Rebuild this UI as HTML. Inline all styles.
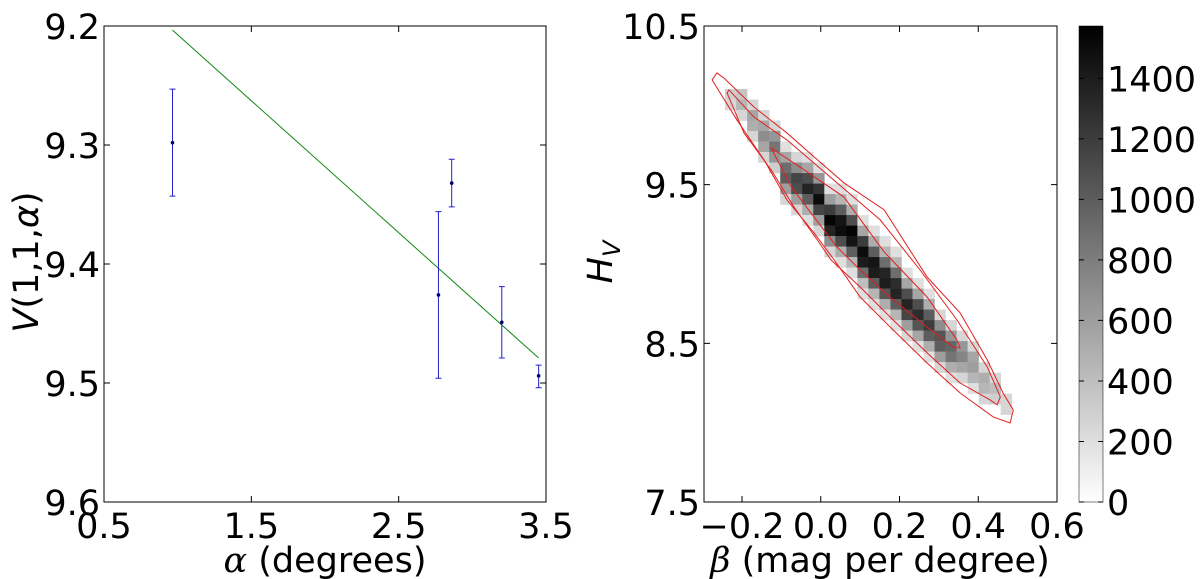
<!DOCTYPE html>
<html><head><meta charset="utf-8">
<style>
html,body{margin:0;padding:0;background:#fff;}
svg{display:block;}
text{font-family:"DejaVu Sans","Liberation Sans",sans-serif;fill:#000;}
</style></head>
<body>
<svg id="fig" width="1200" height="579" viewBox="0 0 1200 579">
  <g id="left"></g>
  <g id="right"></g>
</svg>
<script>
// ---- Left chart data ----
const alphaVals = [0.965, 2.77, 2.86, 3.20, 3.45];
const vVals = [9.298, 9.426, 9.332, 9.449, 9.494];
const vErrLow = [9.253, 9.356, 9.312, 9.419, 9.485];
const vErrHigh = [9.343, 9.496, 9.352, 9.479, 9.504];
const fitAlpha = [0.965, 3.45];
const fitV = [9.2035, 9.479];
const leftXTicks = [0.5, 1.5, 2.5, 3.5];
const leftXTickLabels = ["0.5", "1.5", "2.5", "3.5"];
const leftYTicks = [9.2, 9.3, 9.4, 9.5, 9.6];
const leftYTickLabels = ["9.2", "9.3", "9.4", "9.5", "9.6"];

// ---- Right chart data ----
const betaStart = -0.243;
const betaBinWidth = 0.028;
const hTop = 10.5;
const hBinHeight = 0.0662;
const colTopRows = [6,6,7,8,9,11,12,12,13,15,15,16,18,19,20,21,23,24,25,27,28,29,30,32,33,35];
const colCounts = [
 [300,250],
 [350,450,250],
 [250,550,500,250],
 [250,550,700,550,250],
 [250,650,850,650,300],
 [200,550,900,1000,600,250],
 [250,700,1150,1100,600,250],
 [200,550,1100,1350,1000,500,200],
 [200,650,1250,1500,1150,600,250],
 [200,600,1200,1550,1350,700,250],
 [200,450,1000,1450,1500,1100,500,200],
 [200,500,1100,1550,1450,1000,450,200],
 [200,550,1200,1500,1400,900,400,200],
 [200,500,1000,1450,1400,1000,450,200],
 [200,450,900,1350,1400,1050,500,200],
 [200,450,900,1300,1350,1000,450,200],
 [200,550,1100,1350,1150,600,250],
 [200,550,1100,1300,1050,550,200],
 [200,500,1000,1200,1000,500,200],
 [250,700,1050,1000,600,250],
 [250,650,950,850,500,200],
 [250,650,750,550,250],
 [250,550,600,450,200],
 [250,500,450,250],
 [250,400,300],
 [250,250]
];
const contourOuterBeta = [-0.276,-0.264,-0.246,-0.170,-0.086,-0.017,0.059,0.161,0.270,0.354,0.423,0.463,0.489,0.481,0.438,0.354,0.270,0.184,0.100,0.034,-0.017,-0.086,-0.144,-0.213];
const contourOuterH = [10.160,10.204,10.172,9.990,9.826,9.675,9.511,9.341,8.918,8.692,8.395,8.187,8.080,7.998,8.036,8.187,8.376,8.584,8.792,9.026,9.196,9.404,9.656,9.908];
const contourMidBeta = [-0.238,-0.233,-0.170,-0.086,0.151,0.252,0.346,0.423,0.456,0.448,0.430,0.354,0.270,0.184,0.100,0.026,-0.009,-0.068,-0.126,-0.195];
const contourMidH = [10.078,10.097,9.927,9.782,9.278,8.963,8.647,8.351,8.162,8.112,8.143,8.250,8.440,8.647,8.855,9.026,9.152,9.359,9.593,9.826];
const contourInBeta = [-0.126,-0.042,0.059,0.161,0.270,0.346,0.354,0.336,0.270,0.184,0.100,0.041,-0.017,-0.075];
const contourInH = [9.731,9.593,9.422,9.076,8.792,8.521,8.471,8.477,8.603,8.773,8.963,9.107,9.296,9.486];
const rightXTicks = [-0.2, 0.0, 0.2, 0.4, 0.6];
const rightXTickLabels = ["\u22120.2", "0.0", "0.2", "0.4", "0.6"];
const rightYTicks = [10.5, 9.5, 8.5, 7.5];
const rightYTickLabels = ["10.5", "9.5", "8.5", "7.5"];
const cbarTicks = [0,200,400,600,800,1000,1200,1400];
const cbarMax = 1573;

const NS = "http://www.w3.org/2000/svg";
function mk(parent, tag, attrs, txt){
  const e = document.createElementNS(NS, tag);
  for (const k in attrs) e.setAttribute(k, attrs[k]);
  if (txt !== undefined) e.textContent = txt;
  parent.appendChild(e);
  return e;
}
const FS = 35;

// ===== Left panel =====
const L = document.getElementById('left');
const lx0 = 104, lx1 = 546, ly0 = 26, ly1 = 502;
const lxs = v => lx0 + (v - 0.5) / 3.0 * (lx1 - lx0);
const lys = v => ly0 + (v - 9.2) / 0.4 * (ly1 - ly0);

let fr = mk(L, 'rect', {x:lx0, y:ly0, width:lx1-lx0, height:ly1-ly0, fill:'none', stroke:'#000', 'stroke-width':1});



leftXTicks.forEach((t, i) => {
  const x = lxs(t);
  const tk = mk(L, 'path', {d:`M${x},${ly1}v-6M${x},${ly0}v6`, stroke:'#000', 'stroke-width':1});
  
  
  const lb = mk(L, 'text', {x:x, y:538, 'font-size':FS, 'text-anchor':'middle'}, leftXTickLabels[i]);
  
  
});
leftYTicks.forEach((t, i) => {
  const y = lys(t);
  const tk = mk(L, 'path', {d:`M${lx0},${y}h6M${lx1},${y}h-6`, stroke:'#000', 'stroke-width':1});
  
  
  const lb = mk(L, 'text', {x:lx0-4, y:y+13, 'font-size':FS, 'text-anchor':'end'}, leftYTickLabels[i]);
  
  
});

const fit = mk(L, 'line', {x1:lxs(fitAlpha[0]), y1:lys(fitV[0]), x2:lxs(fitAlpha[1]), y2:lys(fitV[1]), stroke:'#118811', 'stroke-width':1});



alphaVals.forEach((a, i) => {
  const x = lxs(a);
  const g = mk(L, 'g', {});
  
  
  mk(g, 'path', {d:`M${x},${lys(vErrLow[i])}V${lys(vErrHigh[i])}M${x-3},${lys(vErrLow[i])}h6M${x-3},${lys(vErrHigh[i])}h6`, stroke:'#2222cc', 'stroke-width':1, fill:'none'});
  mk(g, 'circle', {cx:x, cy:lys(vVals[i]), r:1.8, fill:'#000066'});
});

let t1 = mk(L, 'text', {x:325, y:572, 'font-size':FS, 'text-anchor':'middle'});


mk(t1, 'tspan', {'font-family':'"DejaVu Serif","Liberation Serif",serif', 'font-style':'italic'}, 'α');
mk(t1, 'tspan', {}, ' (degrees)');

let t2 = mk(L, 'text', {x:0, y:0, 'font-size':FS, 'text-anchor':'middle', transform:'translate(38,262) rotate(-90)', 'font-family':'"DejaVu Serif","Liberation Serif",serif'});


mk(t2, 'tspan', {'font-style':'italic'}, 'V');
mk(t2, 'tspan', {}, '(1,1,');
mk(t2, 'tspan', {'font-style':'italic'}, 'α');
mk(t2, 'tspan', {}, ')');

// ===== Right panel =====
const R = document.getElementById('right');
const rx0 = 704, rx1 = 1057, ry0 = 26, ry1 = 502;
const bMin = -0.2 - (742 - rx0) / 393.5;
const rxs = v => rx0 + (v - bMin) / (0.6 - bMin) * (rx1 - rx0);
const rys = v => ry0 + (10.5 - v) / 3.0 * (ry1 - ry0);
const gray = c => { const g = Math.round(255 * (1 - Math.min(c, cbarMax) / cbarMax)); return `rgb(${g},${g},${g})`; };

colCounts.forEach((col, k) => {
  const b0 = betaStart + k * betaBinWidth;
  col.forEach((c, j) => {
    const hT = hTop - (colTopRows[k] + j) * hBinHeight;
    const x = rxs(b0), x2 = rxs(b0 + betaBinWidth);
    const y = rys(hT), y2 = rys(hT - hBinHeight);
    const cell = mk(R, 'rect', {x:x, y:y, width:x2-x+0.3, height:y2-y+0.3, fill:gray(c)});
    
    
  });
});

function contour(bs, hs, name){
  const pts = bs.map((b, i) => `${rxs(b)},${rys(hs[i])}`).join(' ');
  const p = mk(R, 'polygon', {points:pts, fill:'none', stroke:'#e02020', 'stroke-width':1});
  
  
}
contour(contourOuterBeta, contourOuterH, 'contour-outer');
contour(contourMidBeta, contourMidH, 'contour-middle');
contour(contourInBeta, contourInH, 'contour-inner');

fr = mk(R, 'rect', {x:rx0, y:ry0, width:rx1-rx0, height:ry1-ry0, fill:'none', stroke:'#000', 'stroke-width':1});



rightXTicks.forEach((t, i) => {
  const x = rxs(t);
  const tk = mk(R, 'path', {d:`M${x},${ry1}v-6M${x},${ry0}v6`, stroke:'#000', 'stroke-width':1});
  
  
  const lb = mk(R, 'text', {x:x, y:538, 'font-size':FS, 'text-anchor':'middle'}, rightXTickLabels[i]);
  
  
});
rightYTicks.forEach((t, i) => {
  const y = rys(t);
  const tk = mk(R, 'path', {d:`M${rx0},${y}h6M${rx1},${y}h-6`, stroke:'#000', 'stroke-width':1});
  
  
  const lb = mk(R, 'text', {x:rx0-4, y:y+13, 'font-size':FS, 'text-anchor':'end'}, rightYTickLabels[i]);
  
  
});

let t3 = mk(R, 'text', {x:880, y:572, 'font-size':FS, 'text-anchor':'middle'});


mk(t3, 'tspan', {'font-family':'"DejaVu Serif","Liberation Serif",serif', 'font-style':'italic'}, 'β');
mk(t3, 'tspan', {}, ' (mag per degree)');

let t4 = mk(R, 'text', {x:0, y:0, 'font-size':FS, 'text-anchor':'middle', transform:'translate(612,262) rotate(-90)', 'font-family':'"DejaVu Serif","Liberation Serif",serif'});


mk(t4, 'tspan', {'font-style':'italic'}, 'H');
mk(t4, 'tspan', {'font-style':'italic', 'font-size':24, dy:8}, 'V');

// colorbar
const cx0 = 1079, cx1 = 1103, cy0 = 26, cy1 = 502;
const cys = v => cy1 - v / cbarMax * (cy1 - cy0);
const defs = mk(R, 'defs', {});
const grad = mk(defs, 'linearGradient', {id:'cbg', x1:0, y1:1, x2:0, y2:0});
mk(grad, 'stop', {offset:0, 'stop-color':'#ffffff'});
mk(grad, 'stop', {offset:1, 'stop-color':'#000000'});
const cb = mk(R, 'rect', {x:cx0, y:cy0, width:cx1-cx0, height:cy1-cy0, fill:'url(#cbg)', stroke:'#000', 'stroke-width':0.5});


cbarTicks.forEach(t => {
  const y = cys(t);
  const tk = mk(R, 'path', {d:`M${cx1},${y}h-5M${cx0},${y}h5`, stroke:'#000', 'stroke-width':1});
  
  
  const lb = mk(R, 'text', {x:cx1+4, y:y+13, 'font-size':FS, 'text-anchor':'start'}, String(t));
  
  
});
</script>
</body></html>
